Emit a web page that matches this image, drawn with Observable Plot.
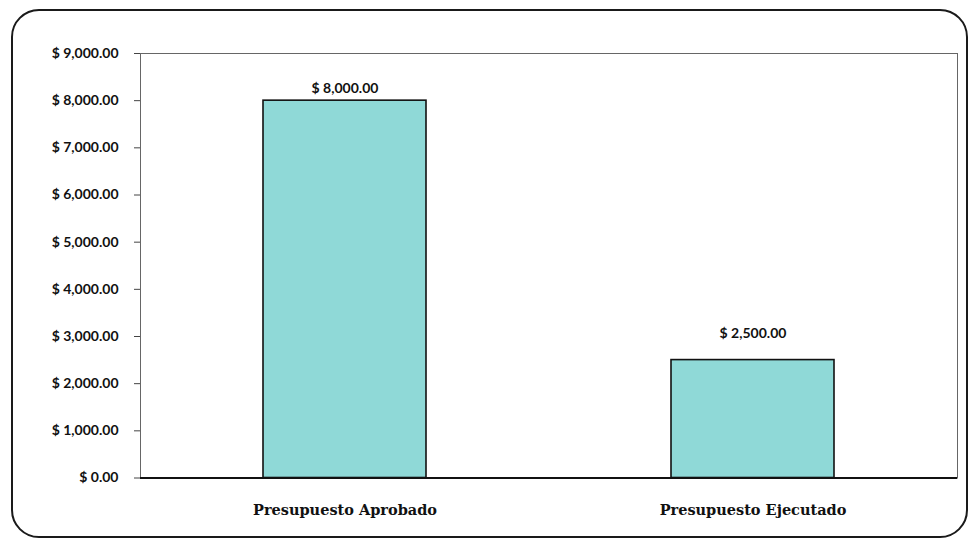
<!DOCTYPE html>
<html><head><meta charset="utf-8">
<script src="https://cdn.jsdelivr.net/npm/d3@7"></script>
<script src="https://cdn.jsdelivr.net/npm/@observablehq/plot@0.6"></script>
<style>
body{margin:0;background:#fff;}
#wrap{position:relative;width:972px;height:542px;}
#wrap svg{position:absolute;left:0;top:0;}
#border{position:absolute;left:11px;top:9px;width:953px;height:525px;border:2px solid #1a1a1a;border-radius:28px;pointer-events:none;}
</style>
</head><body>
<div id="wrap"><div id="border"></div></div>
<script>
const categories = ["Presupuesto Aprobado", "Presupuesto Ejecutado"];
const values = [8000, 2500];
const yTicks = [0,1000,2000,3000,4000,5000,6000,7000,8000,9000];

const data = categories.map((c,i)=>({cat:c, val:values[i]}));
const fmt = v => "$ " + d3.format(",.2f")(v);
const numFont = "Lato, 'Open Sans', sans-serif";

const chart = Plot.plot({
  width: 972, height: 542,
  marginLeft: 140, marginRight: 15, marginTop: 53, marginBottom: 64.5,
  style: {background: "transparent", fontFamily: numFont, color: "#111"},
  x: {domain: categories, paddingInner: 0.6, paddingOuter: 0.3, label: null},
  y: {domain: [0, 9000], label: null},
  marks: [
    Plot.frame({stroke: "#666", strokeWidth: 1}),
    Plot.barY(data, {x: "cat", y: "val", fill: "#8fd9d7", stroke: "#111", strokeWidth: 1.6}),
    Plot.ruleY([0], {stroke: "#111", strokeWidth: 2}),
    Plot.axisY({ticks: yTicks, tickFormat: fmt, tickSize: 6, tickPadding: 16, fontSize: 14, fontWeight: "bold", fontFamily: numFont, label: null, stroke: "#444"}),
    Plot.axisX({tickSize: 0, tickPadding: 27, fontSize: 14.5, fontWeight: "bold", fontFamily: "'DejaVu Serif', serif", label: null}),
    Plot.text(data.filter((d,i)=>i===0), {x: "cat", y: "val", text: d => fmt(d.val), dy: -12, fontSize: 14, fontWeight: "bold", fontFamily: numFont, fill: "#111"}),
    Plot.text(data.filter((d,i)=>i===1), {x: "cat", y: "val", text: d => fmt(d.val), dy: -27, fontSize: 14, fontWeight: "bold", fontFamily: numFont, fill: "#111"})
  ]
});
document.getElementById("wrap").prepend(chart);
</script>
</body></html>
